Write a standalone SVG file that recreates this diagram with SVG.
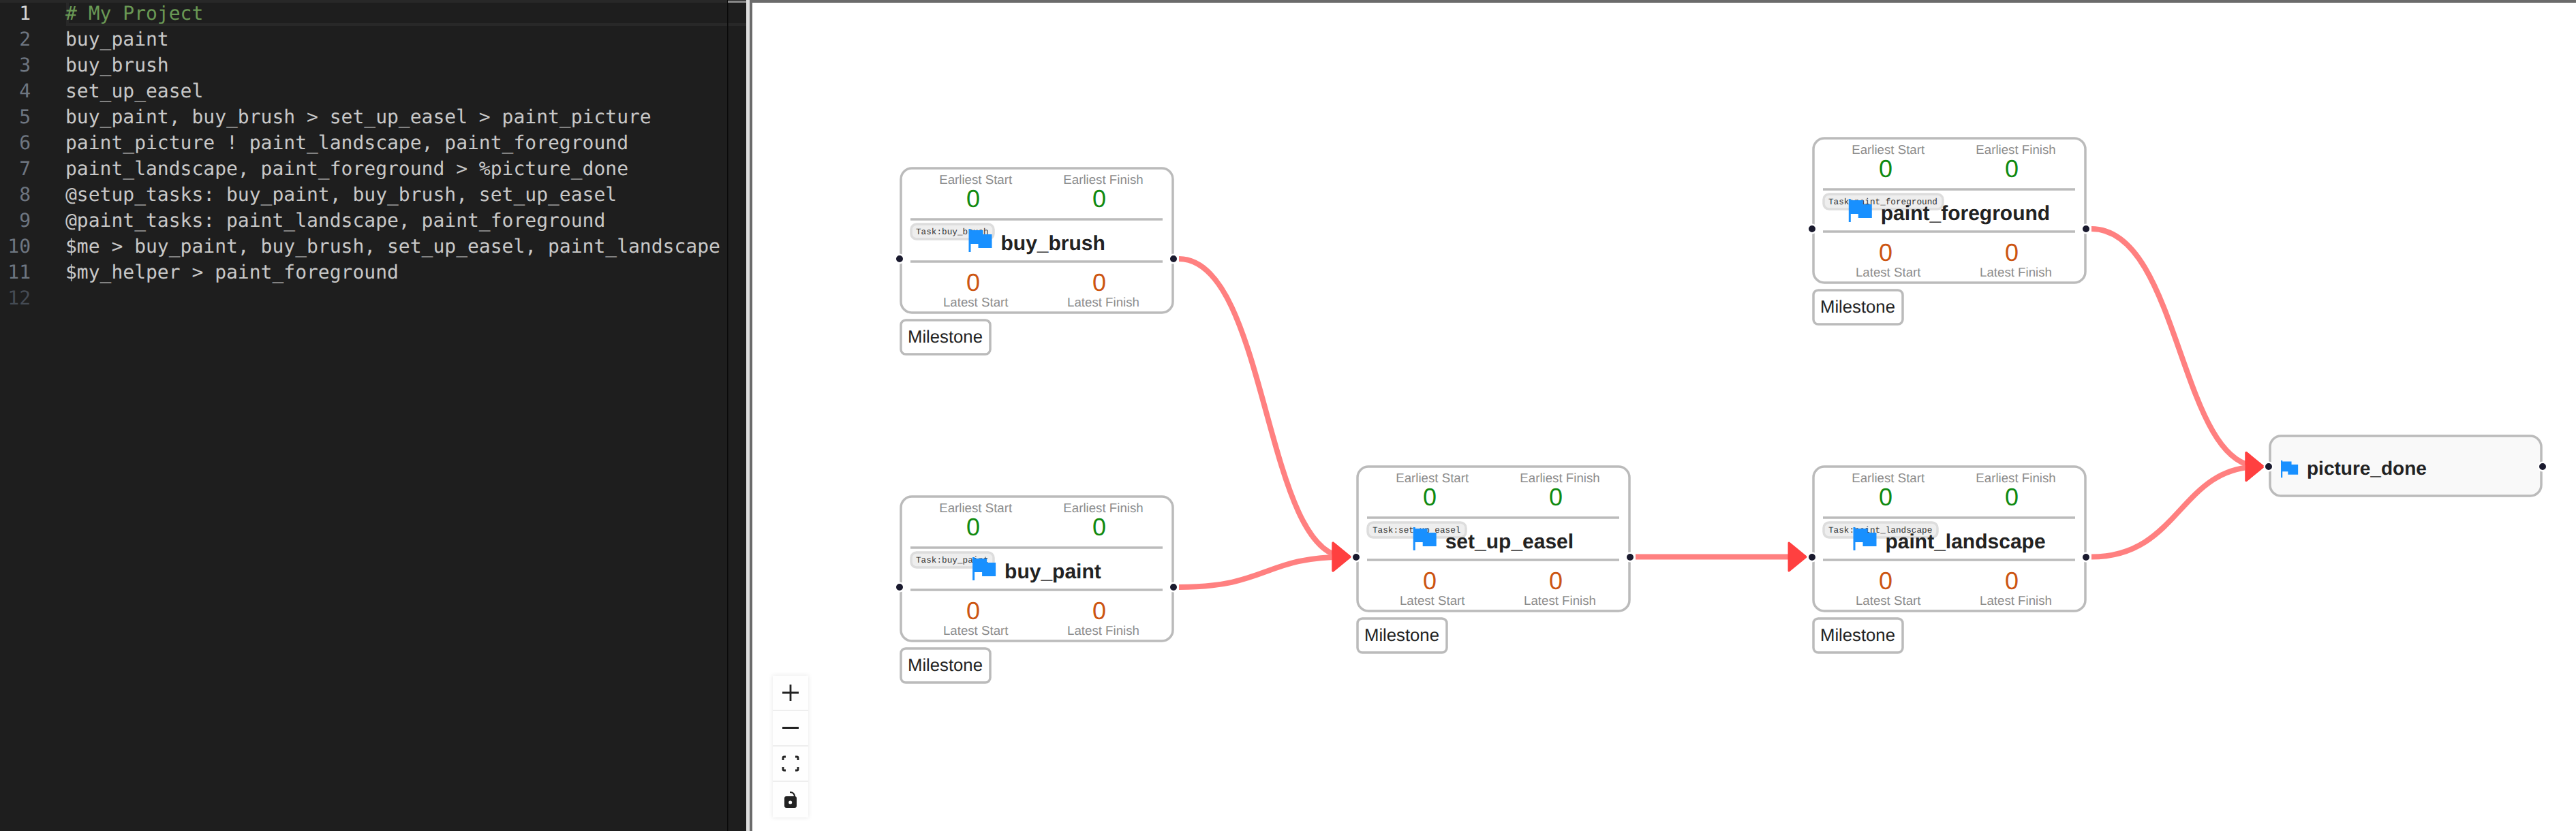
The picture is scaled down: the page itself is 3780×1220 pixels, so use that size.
<svg xmlns="http://www.w3.org/2000/svg" width="3780" height="1220" viewBox="0 0 3780 1220">
<style>
text{text-rendering:geometricPrecision}
.code{font-family:"DejaVu Sans Mono","Liberation Mono",monospace;font-size:28px;fill:#c8c8c8}
.cm{fill:#6a9955}
.ln{font-family:"DejaVu Sans Mono","Liberation Mono",monospace;font-size:28px;fill:#6e7681;text-anchor:end}
.card{fill:#fff;stroke:#bbb;stroke-width:3.5}
.rule{stroke:#bbb;stroke-width:3.5}
.lab{font-family:"Liberation Sans",Arial,sans-serif;font-size:18.7px;fill:#8c8c8c;text-anchor:middle}
.val{font-family:"Liberation Sans",Arial,sans-serif;font-size:36px;text-anchor:middle}
.es{fill:#108a10}
.ls{fill:#cc5511}
.tag{fill:#eee;stroke:#ddd;stroke-width:3.5}
.tagt{font-family:"Liberation Mono",monospace;font-size:12.7px;fill:#333}
.title{font-family:"Liberation Sans",Arial,sans-serif;font-size:30px;font-weight:700;fill:#222}
.ms{fill:#fff;stroke:#bbb;stroke-width:3.5}
.mst{font-family:"Liberation Sans",Arial,sans-serif;font-size:25.7px;fill:#222}
.port{fill:#1a1a2e;stroke:#fff;stroke-width:2.5}
.edge{fill:none;stroke:#ff8080;stroke-width:8;marker-end:url(#arrow)}
.sep{fill:#eee}
.ico{fill:none;stroke:#222;stroke-width:2.8}
</style>
<defs>
<path id="flag" fill="#1890ff" d="M0 0H3V2H21V8H34V28H14V22H3V34H0Z"/>
<marker id="arrow" markerUnits="userSpaceOnUse" markerWidth="32" markerHeight="50" viewBox="0 0 32 50" refX="22.5" refY="25" orient="auto">
<polygon points="3.5,4.5 28.5,25 3.5,45.5" fill="#ff4040" stroke="#ff4040" stroke-width="3" stroke-linejoin="round"/>
</marker>
<filter id="sh" x="-30%" y="-10%" width="160%" height="120%"><feDropShadow dx="0" dy="0" stdDeviation="3" flood-color="#000" flood-opacity="0.1"/></filter>
</defs>
<rect width="3780" height="1220" fill="#fff"/>
<g id="editor">
<rect width="1095" height="1220" fill="#1e1e1e"/>
<rect x="0" y="0" width="1095" height="4" fill="#282828"/>
<rect x="97" y="0" width="4" height="38" fill="#282828"/>
<rect x="97" y="34" width="998" height="4" fill="#282828"/>
<rect x="1067" y="0" width="1.5" height="1220" fill="#0a0a0a"/>
<rect x="1068" y="1" width="27" height="3" fill="#888"/>
<rect x="1095" y="0" width="5" height="1220" fill="#ddd"/>
<rect x="1100" y="0" width="4" height="1220" fill="#6b6b6b"/>
<rect x="1100" y="0" width="2680" height="4" fill="#6b6b6b"/>
<text class="ln" x="45" y="29" style="fill:#d8d8d8">1</text>
<text class="ln" x="45" y="67">2</text>
<text class="ln" x="45" y="105">3</text>
<text class="ln" x="45" y="143">4</text>
<text class="ln" x="45" y="181">5</text>
<text class="ln" x="45" y="219">6</text>
<text class="ln" x="45" y="257">7</text>
<text class="ln" x="45" y="295">8</text>
<text class="ln" x="45" y="333">9</text>
<text class="ln" x="45" y="371">10</text>
<text class="ln" x="45" y="409">11</text>
<text class="ln" x="45" y="447" style="fill:#454b54">12</text>
<text class="code cm" x="96" y="29"># My Project</text>
<text class="code" x="96" y="67">buy_paint</text>
<text class="code" x="96" y="105">buy_brush</text>
<text class="code" x="96" y="143">set_up_easel</text>
<text class="code" x="96" y="181">buy_paint, buy_brush &gt; set_up_easel &gt; paint_picture</text>
<text class="code" x="96" y="219">paint_picture ! paint_landscape, paint_foreground</text>
<text class="code" x="96" y="257">paint_landscape, paint_foreground &gt; %picture_done</text>
<text class="code" x="96" y="295">@setup_tasks: buy_paint, buy_brush, set_up_easel</text>
<text class="code" x="96" y="333">@paint_tasks: paint_landscape, paint_foreground</text>
<text class="code" x="96" y="371">$me &gt; buy_paint, buy_brush, set_up_easel, paint_landscape</text>
<text class="code" x="96" y="409">$my_helper &gt; paint_foreground</text>
</g>
<g id="connectors">
<path class="edge" d="M1730 380C1860 380 1855 817.5 1975 817.5"/>
<path class="edge" d="M1730 862C1860 862 1855 817.5 1975 817.5"/>
<path class="edge" d="M2400 817.5H2644"/>
<path class="edge" d="M3069 336C3199 336 3198 685 3315 685"/>
<path class="edge" d="M3069 817.5C3199 817.5 3198 685 3315 685"/>
</g>
<g id="buy_brush" transform="translate(1322 247)">
<rect class="card" width="399" height="212" rx="16"/>
<text class="lab" x="109.7" y="23">Earliest Start</text><text class="lab" x="297" y="23">Earliest Finish</text>
<text class="val es" x="106" y="57">0</text><text class="val es" x="291" y="57">0</text>
<line class="rule" x1="14" y1="75" x2="384" y2="75"/><line class="rule" x1="14" y1="137" x2="384" y2="137"/>
<rect class="tag" x="15" y="82" width="121" height="22" rx="8"/><text class="tagt" x="22" y="97">Task:buy_brush</text>
<use href="#flag" x="99.5" y="89"/><text class="title" x="146.5" y="120">buy_brush</text>
<text class="val ls" x="106" y="180">0</text><text class="val ls" x="291" y="180">0</text>
<text class="lab" x="109.7" y="203">Latest Start</text><text class="lab" x="297" y="203">Latest Finish</text>
<rect class="ms" y="223" width="131" height="50" rx="7"/><text class="mst" x="10" y="256">Milestone</text>
<circle class="port" cx="-2" cy="133" r="6.25"/><circle class="port" cx="400" cy="133" r="6.25"/>
</g>
<g id="buy_paint" transform="translate(1322 729)">
<rect class="card" width="399" height="212" rx="16"/>
<text class="lab" x="109.7" y="23">Earliest Start</text><text class="lab" x="297" y="23">Earliest Finish</text>
<text class="val es" x="106" y="57">0</text><text class="val es" x="291" y="57">0</text>
<line class="rule" x1="14" y1="75" x2="384" y2="75"/><line class="rule" x1="14" y1="137" x2="384" y2="137"/>
<rect class="tag" x="15" y="82" width="121" height="22" rx="8"/><text class="tagt" x="22" y="97">Task:buy_paint</text>
<use href="#flag" x="105.1" y="89"/><text class="title" x="152.1" y="120">buy_paint</text>
<text class="val ls" x="106" y="180">0</text><text class="val ls" x="291" y="180">0</text>
<text class="lab" x="109.7" y="203">Latest Start</text><text class="lab" x="297" y="203">Latest Finish</text>
<rect class="ms" y="223" width="131" height="50" rx="7"/><text class="mst" x="10" y="256">Milestone</text>
<circle class="port" cx="-2" cy="133" r="6.25"/><circle class="port" cx="400" cy="133" r="6.25"/>
</g>
<g id="set_up_easel" transform="translate(1992 685)">
<rect class="card" width="399" height="212" rx="16"/>
<text class="lab" x="109.7" y="23">Earliest Start</text><text class="lab" x="297" y="23">Earliest Finish</text>
<text class="val es" x="106" y="57">0</text><text class="val es" x="291" y="57">0</text>
<line class="rule" x1="14" y1="75" x2="384" y2="75"/><line class="rule" x1="14" y1="137" x2="384" y2="137"/>
<rect class="tag" x="15" y="82" width="144" height="22" rx="8"/><text class="tagt" x="22" y="97">Task:set_up_easel</text>
<use href="#flag" x="81.7" y="89"/><text class="title" x="128.7" y="120">set_up_easel</text>
<text class="val ls" x="106" y="180">0</text><text class="val ls" x="291" y="180">0</text>
<text class="lab" x="109.7" y="203">Latest Start</text><text class="lab" x="297" y="203">Latest Finish</text>
<rect class="ms" y="223" width="131" height="50" rx="7"/><text class="mst" x="10" y="256">Milestone</text>
<circle class="port" cx="-2" cy="133" r="6.25"/><circle class="port" cx="400" cy="133" r="6.25"/>
</g>
<g id="paint_landscape" transform="translate(2661 685)">
<rect class="card" width="399" height="212" rx="16"/>
<text class="lab" x="109.7" y="23">Earliest Start</text><text class="lab" x="297" y="23">Earliest Finish</text>
<text class="val es" x="106" y="57">0</text><text class="val es" x="291" y="57">0</text>
<line class="rule" x1="14" y1="75" x2="384" y2="75"/><line class="rule" x1="14" y1="137" x2="384" y2="137"/>
<rect class="tag" x="15" y="82" width="167" height="22" rx="8"/><text class="tagt" x="22" y="97">Task:paint_landscape</text>
<use href="#flag" x="58.5" y="89"/><text class="title" x="105.5" y="120">paint_landscape</text>
<text class="val ls" x="106" y="180">0</text><text class="val ls" x="291" y="180">0</text>
<text class="lab" x="109.7" y="203">Latest Start</text><text class="lab" x="297" y="203">Latest Finish</text>
<rect class="ms" y="223" width="131" height="50" rx="7"/><text class="mst" x="10" y="256">Milestone</text>
<circle class="port" cx="-2" cy="133" r="6.25"/><circle class="port" cx="400" cy="133" r="6.25"/>
</g>
<g id="paint_foreground" transform="translate(2661 203)">
<rect class="card" width="399" height="212" rx="16"/>
<text class="lab" x="109.7" y="23">Earliest Start</text><text class="lab" x="297" y="23">Earliest Finish</text>
<text class="val es" x="106" y="57">0</text><text class="val es" x="291" y="57">0</text>
<line class="rule" x1="14" y1="75" x2="384" y2="75"/><line class="rule" x1="14" y1="137" x2="384" y2="137"/>
<rect class="tag" x="15" y="82" width="175" height="22" rx="8"/><text class="tagt" x="22" y="97">Task:paint_foreground</text>
<use href="#flag" x="51.8" y="89"/><text class="title" x="98.8" y="120">paint_foreground</text>
<text class="val ls" x="106" y="180">0</text><text class="val ls" x="291" y="180">0</text>
<text class="lab" x="109.7" y="203">Latest Start</text><text class="lab" x="297" y="203">Latest Finish</text>
<rect class="ms" y="223" width="131" height="50" rx="7"/><text class="mst" x="10" y="256">Milestone</text>
<circle class="port" cx="-2" cy="133" r="6.25"/><circle class="port" cx="400" cy="133" r="6.25"/>
</g>
<g id="picture_done">
<rect x="3331" y="640" width="398" height="88" rx="16" fill="#f9f9f9" stroke="#bbb" stroke-width="3.5"/>
<use href="#flag" transform="translate(3347 676) scale(0.74)"/>
<text class="title" x="3385" y="697" style="font-size:28px">picture_done</text>
<circle class="port" cx="3329" cy="685" r="6.25"/><circle class="port" cx="3731" cy="685" r="6.25"/>
</g>
<g id="controls">
<rect x="1134" y="992" width="52" height="208" fill="#fefefe" filter="url(#sh)"/>
<rect class="sep" x="1134" y="1042" width="52" height="2"/>
<rect class="sep" x="1134" y="1094" width="52" height="2"/>
<rect class="sep" x="1134" y="1146" width="52" height="2"/>
<path class="ico" d="M1148 1017H1172M1160 1005V1029"/>
<path class="ico" style="stroke-width:3" d="M1148 1068.5H1172"/>
<path class="ico" d="M1149 1116V1112.5Q1149 1111 1150.5 1111H1153M1167 1111H1169.5Q1171 1111 1171 1112.5V1116M1171 1126V1129.5Q1171 1131 1169.5 1131H1167M1153 1131H1150.5Q1149 1131 1149 1129.5V1126"/>
<rect x="1151" y="1169" width="18" height="17" rx="3" fill="#222"/>
<path class="ico" style="stroke-width:2" d="M1159 1163Q1166 1163 1166 1170"/>
<circle cx="1159.7" cy="1178" r="2.5" fill="#fff"/>
</g>
</svg>
